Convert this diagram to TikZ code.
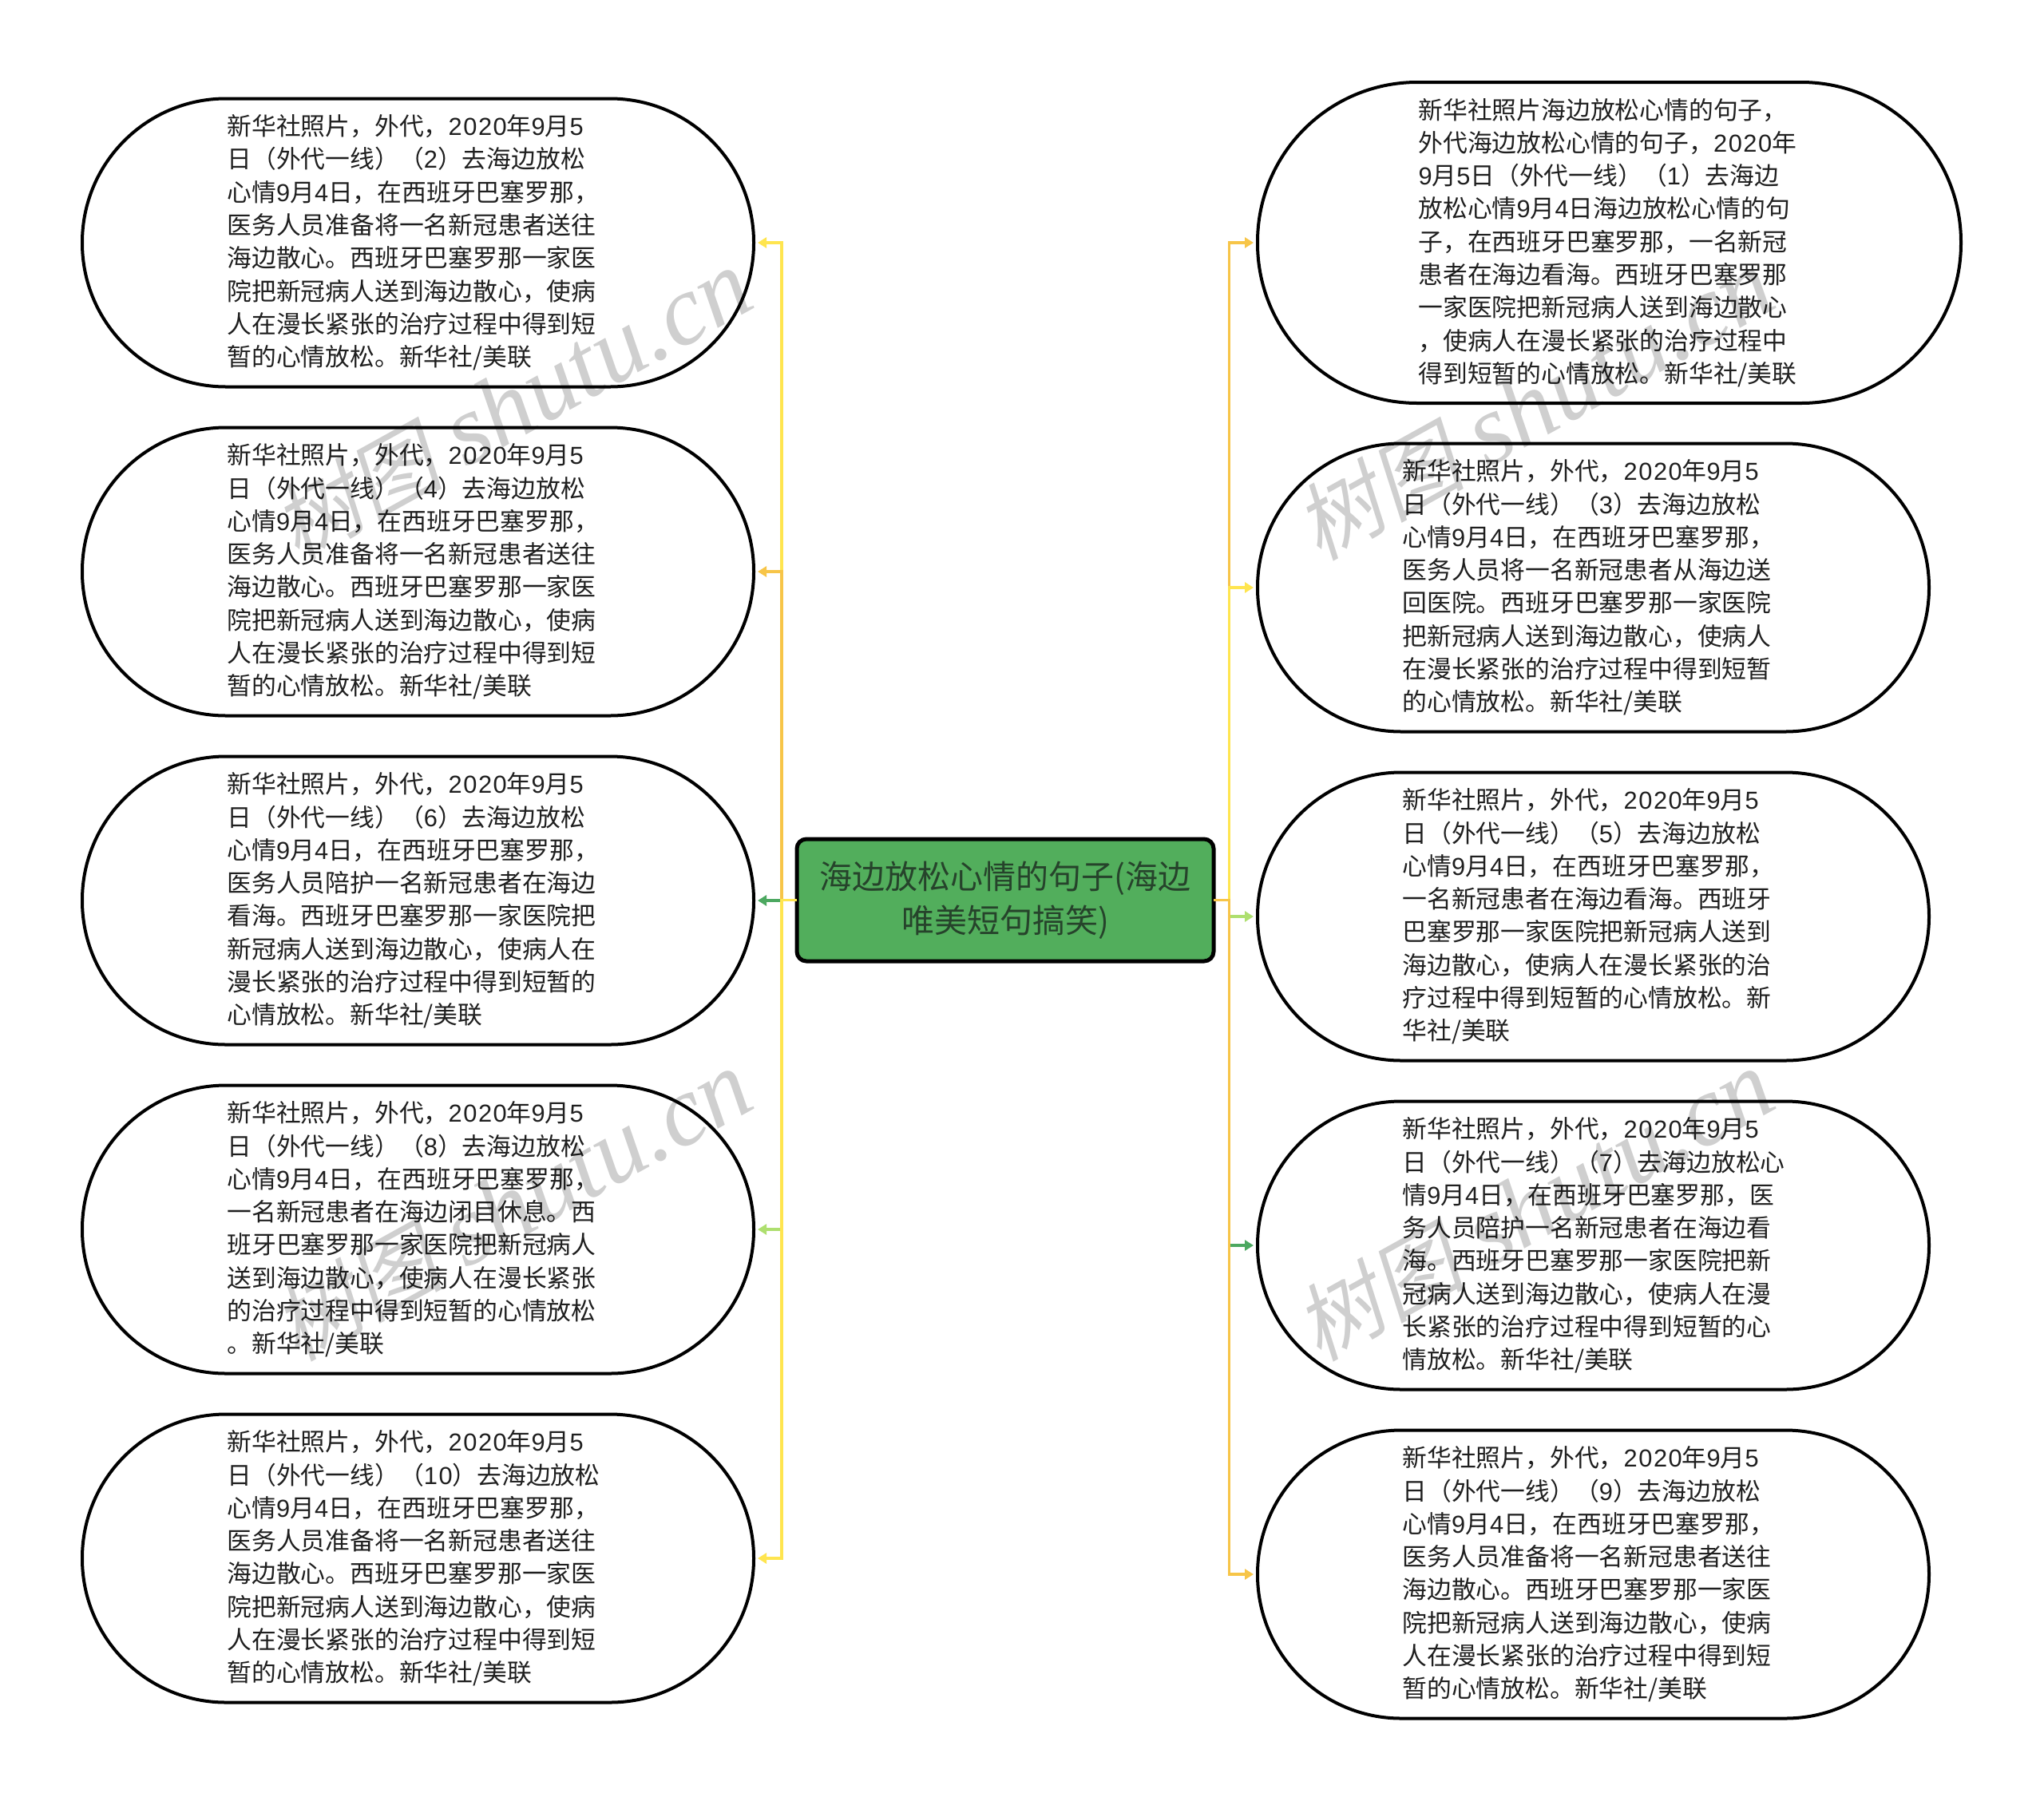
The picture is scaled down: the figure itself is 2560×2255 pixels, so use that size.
\documentclass[tikz,border=0pt]{standalone}
\usepackage{fontspec}
\setmainfont{Noto Sans CJK SC}
\newfontfamily\wmcjk[FakeSlant=0.2,Scale=0.85]{Noto Sans CJK SC}
\newfontfamily\wmlatin{Liberation Serif}
\newfontfamily\digitfont[LetterSpace=5]{Liberation Sans}
\newcommand{\dg}[1]{{\digitfont #1}}
\usetikzlibrary{arrows.meta}
\definecolor{linkYellow}{HTML}{FFE54F}
\definecolor{linkGold}{HTML}{F7C548}
\definecolor{linkLime}{HTML}{AEDF6F}
\definecolor{linkGreen}{HTML}{4CA860}
\definecolor{rootFill}{HTML}{52AE5C}
\definecolor{rootText}{HTML}{26432B}
\tikzset{
  bubble/.style={draw=black,line width=4pt,fill=none,outer sep=0pt,inner sep=0pt,
    minimum width=841pt,minimum height=361pt,rounded corners=180pt,
    text width=478pt,align=left,text=black!88,font=\fontsize{30.8}{41.3}\selectfont},
  rootbox/.style={draw=black,line width=5pt,fill=rootFill,outer sep=0pt,inner sep=0pt,
    minimum width=522pt,minimum height=153pt,rounded corners=12pt,
    align=center,text=rootText,font=\fontsize{41}{55.5}\selectfont},
  branch/.style={line width=3.5pt,-{Triangle[length=11pt,width=13pt]}},
  wmark/.style={rotate=29,text=black,opacity=0.19,font=\fontsize{125}{125}\selectfont}
}
\begin{document}
\begin{tikzpicture}[x=1pt,y=-1pt]
  \useasboundingbox (0,0) rectangle (2560,2255);

  \node[rootbox] (root) at (1259,1127.5) {海边放松心情的句子(海边\\唯美短句搞笑)};

  \node[bubble] (L1) at (523.5,304) {新华社照片，外代，\dg{2020}年\dg{9}月\dg{5}\\日（外代一线）（\dg{2}）去海边放松\\心情\dg{9}月\dg{4}日，在西班牙巴塞罗那，\\医务人员准备将一名新冠患者送往\\海边散心。西班牙巴塞罗那一家医\\院把新冠病人送到海边散心，使病\\人在漫长紧张的治疗过程中得到短\\暂的心情放松。新华社/美联};
  \node[bubble] (L2) at (523.5,716) {新华社照片，外代，\dg{2020}年\dg{9}月\dg{5}\\日（外代一线）（\dg{4}）去海边放松\\心情\dg{9}月\dg{4}日，在西班牙巴塞罗那，\\医务人员准备将一名新冠患者送往\\海边散心。西班牙巴塞罗那一家医\\院把新冠病人送到海边散心，使病\\人在漫长紧张的治疗过程中得到短\\暂的心情放松。新华社/美联};
  \node[bubble] (L3) at (523.5,1128) {新华社照片，外代，\dg{2020}年\dg{9}月\dg{5}\\日（外代一线）（\dg{6}）去海边放松\\心情\dg{9}月\dg{4}日，在西班牙巴塞罗那，\\医务人员陪护一名新冠患者在海边\\看海。西班牙巴塞罗那一家医院把\\新冠病人送到海边散心，使病人在\\漫长紧张的治疗过程中得到短暂的\\心情放松。新华社/美联};
  \node[bubble] (L4) at (523.5,1540) {新华社照片，外代，\dg{2020}年\dg{9}月\dg{5}\\日（外代一线）（\dg{8}）去海边放松\\心情\dg{9}月\dg{4}日，在西班牙巴塞罗那，\\一名新冠患者在海边闭目休息。西\\班牙巴塞罗那一家医院把新冠病人\\送到海边散心，使病人在漫长紧张\\的治疗过程中得到短暂的心情放松\\。新华社/美联};
  \node[bubble] (L5) at (523.5,1952) {新华社照片，外代，\dg{2020}年\dg{9}月\dg{5}\\日（外代一线）（\dg{10}）去海边放松\\心情\dg{9}月\dg{4}日，在西班牙巴塞罗那，\\医务人员准备将一名新冠患者送往\\海边散心。西班牙巴塞罗那一家医\\院把新冠病人送到海边散心，使病\\人在漫长紧张的治疗过程中得到短\\暂的心情放松。新华社/美联};

  \node[bubble,minimum width=881pt,minimum height=402pt,rounded corners=200pt] (R1) at (2015.5,304) {新华社照片海边放松心情的句子，\\外代海边放松心情的句子，\dg{2020}年\\\dg{9}月\dg{5}日（外代一线）（\dg{1}）去海边\\放松心情\dg{9}月\dg{4}日海边放松心情的句\\子，在西班牙巴塞罗那，一名新冠\\患者在海边看海。西班牙巴塞罗那\\一家医院把新冠病人送到海边散心\\，使病人在漫长紧张的治疗过程中\\得到短暂的心情放松。新华社/美联};
  \node[bubble] (R2) at (1995.5,736) {新华社照片，外代，\dg{2020}年\dg{9}月\dg{5}\\日（外代一线）（\dg{3}）去海边放松\\心情\dg{9}月\dg{4}日，在西班牙巴塞罗那，\\医务人员将一名新冠患者从海边送\\回医院。西班牙巴塞罗那一家医院\\把新冠病人送到海边散心，使病人\\在漫长紧张的治疗过程中得到短暂\\的心情放松。新华社/美联};
  \node[bubble] (R3) at (1995.5,1148) {新华社照片，外代，\dg{2020}年\dg{9}月\dg{5}\\日（外代一线）（\dg{5}）去海边放松\\心情\dg{9}月\dg{4}日，在西班牙巴塞罗那，\\一名新冠患者在海边看海。西班牙\\巴塞罗那一家医院把新冠病人送到\\海边散心，使病人在漫长紧张的治\\疗过程中得到短暂的心情放松。新\\华社/美联};
  \node[bubble] (R4) at (1995.5,1560) {新华社照片，外代，\dg{2020}年\dg{9}月\dg{5}\\日（外代一线）（\dg{7}）去海边放松心\\情\dg{9}月\dg{4}日，在西班牙巴塞罗那，医\\务人员陪护一名新冠患者在海边看\\海。西班牙巴塞罗那一家医院把新\\冠病人送到海边散心，使病人在漫\\长紧张的治疗过程中得到短暂的心\\情放松。新华社/美联};
  \node[bubble] (R5) at (1995.5,1972) {新华社照片，外代，\dg{2020}年\dg{9}月\dg{5}\\日（外代一线）（\dg{9}）去海边放松\\心情\dg{9}月\dg{4}日，在西班牙巴塞罗那，\\医务人员准备将一名新冠患者送往\\海边散心。西班牙巴塞罗那一家医\\院把新冠病人送到海边散心，使病\\人在漫长紧张的治疗过程中得到短\\暂的心情放松。新华社/美联};

  \coordinate (trunkL) at (979,1127.5);
  \coordinate (trunkR) at (1539.5,1127.5);

  % later branches lie over earlier ones on the trunk
  \draw[branch,linkYellow] (root.west) -- (trunkL) |- ([xshift=5pt]L1.east);
  \draw[branch,linkGold] (root.west) -- (trunkL) |- ([xshift=5pt]L2.east);
  \draw[branch,linkGreen] (root.west) -- (trunkL) |- ([xshift=5pt]L3.east);
  \draw[branch,linkLime] (root.west) -- (trunkL) |- ([xshift=5pt]L4.east);
  \draw[branch,linkYellow] (root.west) -- (trunkL) |- ([xshift=5pt]L5.east);

  \draw[branch,linkGold] (root.east) -- (trunkR) |- ([xshift=-5pt]R1.west);
  \draw[branch,linkYellow] (root.east) -- (trunkR) |- ([xshift=-5pt]R2.west);
  \draw[branch,linkLime] (root.east) -- (trunkR) |- ([xshift=-5pt]R3.west);
  \draw[branch,linkGreen] (root.east) -- (trunkR) |- ([xshift=-5pt]R4.west);
  \draw[branch,linkGold] (root.east) -- (trunkR) |- ([xshift=-5pt]R5.west);

  \node[wmark] (wmA) at (642,508) {{\wmcjk 树图} {\wmlatin\itshape shutu.cn}};
  \node[wmark] (wmB) at (1922,508) {{\wmcjk 树图} {\wmlatin\itshape shutu.cn}};
  \node[wmark] (wmC) at (642,1511) {{\wmcjk 树图} {\wmlatin\itshape shutu.cn}};
  \node[wmark] (wmD) at (1922,1511) {{\wmcjk 树图} {\wmlatin\itshape shutu.cn}};
\end{tikzpicture}
\end{document}
